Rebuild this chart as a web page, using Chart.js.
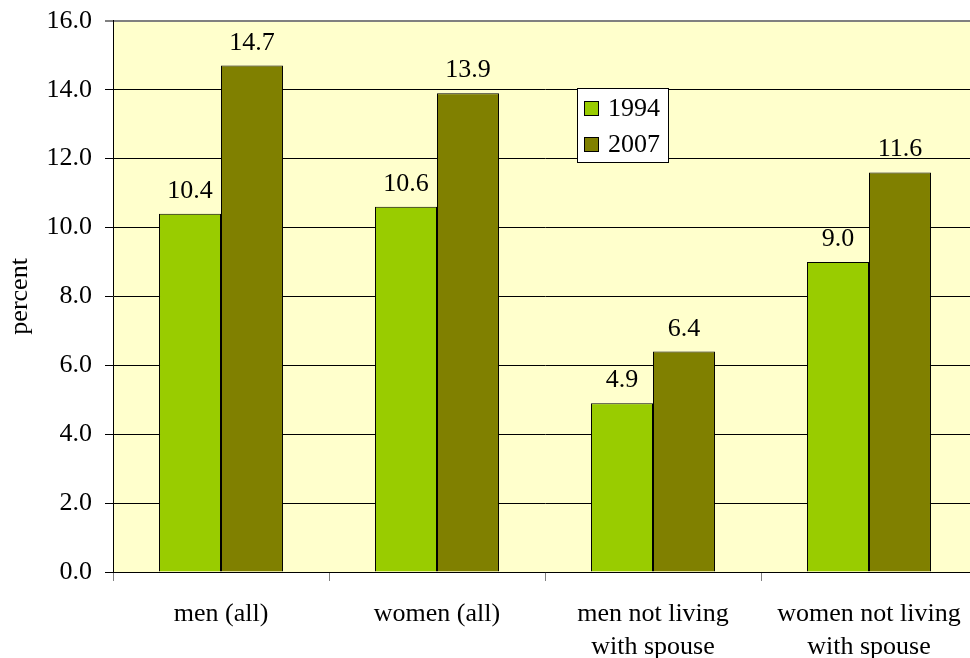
<!DOCTYPE html>
<html>
<head>
<meta charset="utf-8">
<script src="https://cdn.jsdelivr.net/npm/chart.js@4"></script>
<style>
  html, body { margin: 0; padding: 0; background: #ffffff; overflow: hidden; }
  #wrap { width: 980px; height: 658px; }
</style>
</head>
<body>
<div id="wrap"><canvas id="chart" width="980" height="658"></canvas></div>
<script>
const categories = [
  ['men (all)'],
  ['women (all)'],
  ['men not living', 'with spouse'],
  ['women not living', 'with spouse']
];
const seriesNames = ['1994', '2007'];
const values1994 = [10.4, 10.6, 4.9, 9.0];
const values2007 = [14.7, 13.9, 6.4, 11.6];
const yTicks = [0, 2, 4, 6, 8, 10, 12, 14, 16];

const FONT = '"Liberation Serif", "Times New Roman", serif';
const FONT_SIZE = 26;

// Pale plot background
const plotBackground = {
  id: 'plotBackground',
  beforeDraw(chart) {
    const { ctx, chartArea: a } = chart;
    ctx.save();
    ctx.fillStyle = '#FFFFCC';
    ctx.fillRect(a.left, a.top, a.right - a.left, a.bottom - a.top);
    ctx.restore();
  }
};

// Value labels above each bar
const valueLabels = {
  id: 'valueLabels',
  afterDatasetsDraw(chart) {
    const { ctx } = chart;
    ctx.save();
    ctx.font = FONT_SIZE + 'px ' + FONT;
    ctx.fillStyle = '#000';
    ctx.textAlign = 'center';
    ctx.textBaseline = 'alphabetic';
    chart.data.datasets.forEach((ds, i) => {
      chart.getDatasetMeta(i).data.forEach((bar, j) => {
        ctx.fillText(ds.data[j].toFixed(1), bar.x, bar.y - 16);
      });
    });
    ctx.restore();
  }
};

// Boxed legend inside the plot area
const boxedLegend = {
  id: 'boxedLegend',
  afterDraw(chart) {
    const { ctx } = chart;
    const x = 577, y = 88, w = 91, h = 74;
    ctx.save();
    ctx.fillStyle = '#fff';
    ctx.fillRect(x, y, w, h);
    ctx.strokeStyle = '#000';
    ctx.lineWidth = 1;
    ctx.strokeRect(x + 0.5, y + 0.5, w, h);
    ctx.font = FONT_SIZE + 'px ' + FONT;
    ctx.textBaseline = 'alphabetic';
    ctx.textAlign = 'left';
    chart.data.datasets.forEach((ds, i) => {
      const sy = y + 13 + i * 36;
      ctx.fillStyle = ds.backgroundColor;
      ctx.fillRect(x + 7, sy, 15, 15);
      ctx.strokeRect(x + 7.5, sy + 0.5, 14, 14);
      ctx.fillStyle = '#000';
      ctx.fillText(ds.label, x + 31, sy + 15);
    });
    ctx.restore();
  }
};

new Chart(document.getElementById('chart'), {
  type: 'bar',
  data: {
    labels: categories,
    datasets: [
      { label: seriesNames[0], data: values1994, backgroundColor: '#99CC00', borderColor: '#000', borderWidth: 1 },
      { label: seriesNames[1], data: values2007, backgroundColor: '#808000', borderColor: '#000', borderWidth: 1 }
    ]
  },
  options: {
    responsive: false,
    animation: false,
    layout: { padding: { left: 0, top: 20, right: 3, bottom: 0 } },
    datasets: { bar: { barPercentage: 1.0, categoryPercentage: 0.574 } },
    plugins: { legend: { display: false }, tooltip: { enabled: false } },
    scales: {
      x: {
        offset: true,
        grid: { offset: true, drawOnChartArea: false, drawTicks: true, tickLength: 9, color: '#808080', lineWidth: 1 },
        border: { color: '#000', width: 1 },
        ticks: { font: { family: FONT, size: FONT_SIZE, lineHeight: 1.25 }, color: '#000', padding: 17, maxRotation: 0, autoSkip: false },
        afterFit(scale) { scale.height = 86; }
      },
      y: {
        min: 0,
        max: 16,
        afterBuildTicks(scale) { scale.ticks = yTicks.map(v => ({ value: v })); },
        grid: {
          color: ctx => (ctx.tick && ctx.tick.value === 16 ? '#808080' : '#000'),
          lineWidth: ctx => (ctx.tick && ctx.tick.value === 16 ? 2 : 1),
          tickLength: 8,
          drawTicks: true
        },
        border: { color: '#000', width: 1 },
        ticks: { font: { family: FONT, size: FONT_SIZE, lineHeight: 0.6 }, color: '#000', padding: 13, callback: v => Number(v).toFixed(1) },
        title: { display: true, text: 'percent', font: { family: FONT, size: FONT_SIZE }, color: '#000', padding: { top: 5, bottom: 0 } },
        afterFit(scale) { scale.width = 113; }
      }
    }
  },
  plugins: [plotBackground, valueLabels, boxedLegend]
});
</script>
</body>
</html>
